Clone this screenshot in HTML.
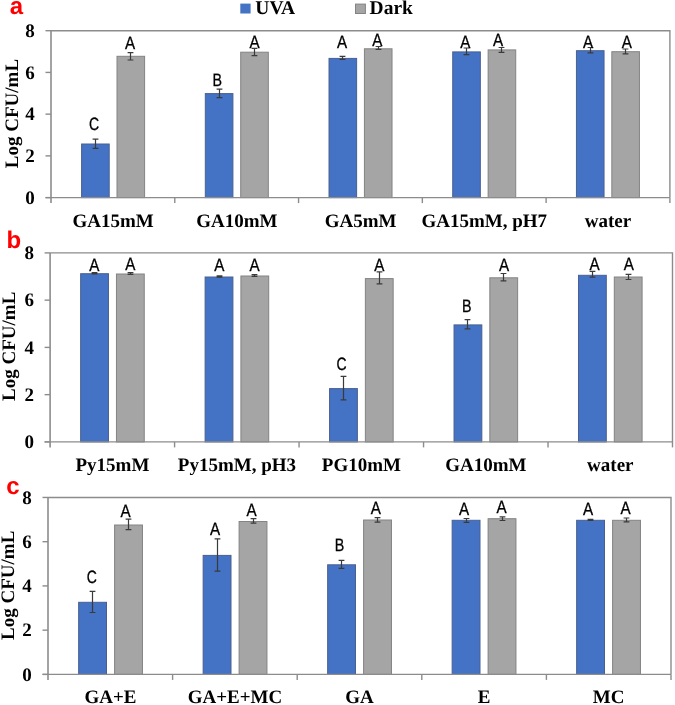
<!DOCTYPE html>
<html><head><meta charset="utf-8"><title>Chart</title>
<style>html,body{margin:0;padding:0;background:#fff;}svg{display:block;will-change:transform;} text{text-rendering:geometricPrecision;}</style>
</head><body>
<svg width="675" height="705" viewBox="0 0 675 705">
<rect x="0" y="0" width="675" height="705" fill="#fff"/>
<rect x="240.3" y="3.6" width="10.3" height="9.9" fill="#4472c4"/>
<text x="255.3" y="14.4" style="font-family:'Liberation Serif',serif;font-weight:bold;font-size:19.5px" fill="#000">UVA</text>
<rect x="355.5" y="4.1" width="9.9" height="9.4" fill="#a5a5a5" stroke="#838383" stroke-width="1"/>
<text x="369.6" y="14.4" style="font-family:'Liberation Serif',serif;font-weight:bold;font-size:19.5px" fill="#000">Dark</text>
<text x="16.5" y="14.2" text-anchor="middle" style="font-family:'Liberation Sans',sans-serif;font-weight:bold;font-size:24px" fill="#f00">a</text>
<text x="0" y="0" transform="translate(17.9,113.5) rotate(-90)" text-anchor="middle" style="font-family:'Liberation Serif',serif;font-weight:bold;font-size:19px" fill="#000">Log CFU/mL</text>
<path d="M51.0 30.7H669.9V197.6" fill="none" stroke="#8c8c8c" stroke-width="1.4"/>
<line x1="45.5" y1="197.60" x2="51.0" y2="197.60" stroke="#8c8c8c" stroke-width="1.4"/>
<text x="34.8" y="203.90" text-anchor="end" style="font-family:'Liberation Serif',serif;font-weight:bold;font-size:19px" fill="#000">0</text>
<line x1="45.5" y1="155.88" x2="51.0" y2="155.88" stroke="#8c8c8c" stroke-width="1.4"/>
<text x="34.8" y="162.18" text-anchor="end" style="font-family:'Liberation Serif',serif;font-weight:bold;font-size:19px" fill="#000">2</text>
<line x1="45.5" y1="114.15" x2="51.0" y2="114.15" stroke="#8c8c8c" stroke-width="1.4"/>
<text x="34.8" y="120.45" text-anchor="end" style="font-family:'Liberation Serif',serif;font-weight:bold;font-size:19px" fill="#000">4</text>
<line x1="45.5" y1="72.42" x2="51.0" y2="72.42" stroke="#8c8c8c" stroke-width="1.4"/>
<text x="34.8" y="78.72" text-anchor="end" style="font-family:'Liberation Serif',serif;font-weight:bold;font-size:19px" fill="#000">6</text>
<line x1="45.5" y1="30.70" x2="51.0" y2="30.70" stroke="#8c8c8c" stroke-width="1.4"/>
<text x="34.8" y="37.00" text-anchor="end" style="font-family:'Liberation Serif',serif;font-weight:bold;font-size:19px" fill="#000">8</text>
<rect x="81.60" y="144.00" width="27.60" height="53.60" fill="#4472c4" stroke="#4a5f90" stroke-width="1.0"/>
<rect x="117.00" y="56.30" width="27.60" height="141.30" fill="#a5a5a5" stroke="#838383" stroke-width="1.0"/>
<path d="M92.60 139.2H98.40M95.50 139.2V148.3M92.60 148.3H98.40" fill="none" stroke="#3a3a3a" stroke-width="1.2"/>
<path d="M127.60 52.6H133.40M130.50 52.6V60.0M127.60 60.0H133.40" fill="none" stroke="#3a3a3a" stroke-width="1.2"/>
<rect x="205.31" y="93.60" width="27.60" height="104.00" fill="#4472c4" stroke="#4a5f90" stroke-width="1.0"/>
<rect x="240.71" y="52.20" width="27.60" height="145.40" fill="#a5a5a5" stroke="#838383" stroke-width="1.0"/>
<path d="M216.60 89.1H222.40M219.50 89.1V97.6M216.60 97.6H222.40" fill="none" stroke="#3a3a3a" stroke-width="1.2"/>
<path d="M251.60 48.3H257.40M254.50 48.3V55.7M251.60 55.7H257.40" fill="none" stroke="#3a3a3a" stroke-width="1.2"/>
<rect x="329.02" y="58.40" width="27.60" height="139.20" fill="#4472c4" stroke="#4a5f90" stroke-width="1.0"/>
<rect x="364.42" y="48.80" width="27.60" height="148.80" fill="#a5a5a5" stroke="#838383" stroke-width="1.0"/>
<path d="M339.60 56.4H345.40M342.50 56.4V59.4M339.60 59.4H345.40" fill="none" stroke="#3a3a3a" stroke-width="1.2"/>
<path d="M375.60 46.5H381.40M378.50 46.5V49.4M375.60 49.4H381.40" fill="none" stroke="#3a3a3a" stroke-width="1.2"/>
<rect x="452.73" y="51.90" width="27.60" height="145.70" fill="#4472c4" stroke="#4a5f90" stroke-width="1.0"/>
<rect x="488.13" y="49.90" width="27.60" height="147.70" fill="#a5a5a5" stroke="#838383" stroke-width="1.0"/>
<path d="M463.60 48.0H469.40M466.50 48.0V54.6M463.60 54.6H469.40" fill="none" stroke="#3a3a3a" stroke-width="1.2"/>
<path d="M498.60 47.5H504.40M501.50 47.5V52.4M498.60 52.4H504.40" fill="none" stroke="#3a3a3a" stroke-width="1.2"/>
<rect x="576.44" y="50.70" width="27.60" height="146.90" fill="#4472c4" stroke="#4a5f90" stroke-width="1.0"/>
<rect x="611.84" y="51.70" width="27.60" height="145.90" fill="#a5a5a5" stroke="#838383" stroke-width="1.0"/>
<path d="M587.60 47.5H593.40M590.50 47.5V52.9M587.60 52.9H593.40" fill="none" stroke="#3a3a3a" stroke-width="1.2"/>
<path d="M622.60 49.0H628.40M625.50 49.0V53.9M622.60 53.9H628.40" fill="none" stroke="#3a3a3a" stroke-width="1.2"/>
<text transform="translate(94.10,130.20) scale(0.78,1)" text-anchor="middle" style="font-family:'Liberation Sans',sans-serif;font-size:17.9px" fill="#000" stroke="#000" stroke-width="0.3">C</text>
<text transform="translate(217.20,85.60) scale(0.8,1)" text-anchor="middle" style="font-family:'Liberation Sans',sans-serif;font-size:17.9px" fill="#000" stroke="#000" stroke-width="0.3">B</text>
<text transform="translate(342.05,47.80) scale(0.85,1)" text-anchor="middle" style="font-family:'Liberation Sans',sans-serif;font-size:17.9px" fill="#000" stroke="#000" stroke-width="0.3">A</text>
<text transform="translate(465.25,47.80) scale(0.85,1)" text-anchor="middle" style="font-family:'Liberation Sans',sans-serif;font-size:17.9px" fill="#000" stroke="#000" stroke-width="0.3">A</text>
<text transform="translate(588.10,47.80) scale(0.85,1)" text-anchor="middle" style="font-family:'Liberation Sans',sans-serif;font-size:17.9px" fill="#000" stroke="#000" stroke-width="0.3">A</text>
<text transform="translate(129.95,48.70) scale(0.85,1)" text-anchor="middle" style="font-family:'Liberation Sans',sans-serif;font-size:17.9px" fill="#000" stroke="#000" stroke-width="0.3">A</text>
<text transform="translate(254.65,47.80) scale(0.85,1)" text-anchor="middle" style="font-family:'Liberation Sans',sans-serif;font-size:17.9px" fill="#000" stroke="#000" stroke-width="0.3">A</text>
<text transform="translate(377.40,45.90) scale(0.85,1)" text-anchor="middle" style="font-family:'Liberation Sans',sans-serif;font-size:17.9px" fill="#000" stroke="#000" stroke-width="0.3">A</text>
<text transform="translate(498.15,46.30) scale(0.85,1)" text-anchor="middle" style="font-family:'Liberation Sans',sans-serif;font-size:17.9px" fill="#000" stroke="#000" stroke-width="0.3">A</text>
<text transform="translate(626.85,47.80) scale(0.85,1)" text-anchor="middle" style="font-family:'Liberation Sans',sans-serif;font-size:17.9px" fill="#000" stroke="#000" stroke-width="0.3">A</text>
<line x1="51.0" y1="30.7" x2="51.0" y2="203.1" stroke="#8c8c8c" stroke-width="1.6"/>
<line x1="45.5" y1="197.6" x2="669.9" y2="197.6" stroke="#8c8c8c" stroke-width="1.4"/>
<line x1="174.78" y1="197.6" x2="174.78" y2="203.1" stroke="#8c8c8c" stroke-width="1.4"/>
<line x1="298.56" y1="197.6" x2="298.56" y2="203.1" stroke="#8c8c8c" stroke-width="1.4"/>
<line x1="422.34" y1="197.6" x2="422.34" y2="203.1" stroke="#8c8c8c" stroke-width="1.4"/>
<line x1="546.12" y1="197.6" x2="546.12" y2="203.1" stroke="#8c8c8c" stroke-width="1.4"/>
<line x1="669.90" y1="197.6" x2="669.90" y2="203.1" stroke="#8c8c8c" stroke-width="1.4"/>
<text x="113.10" y="226.60" text-anchor="middle" style="font-family:'Liberation Serif',serif;font-weight:bold;font-size:19px" fill="#000">GA15mM</text>
<text x="236.81" y="226.60" text-anchor="middle" style="font-family:'Liberation Serif',serif;font-weight:bold;font-size:19px" fill="#000">GA10mM</text>
<text x="360.52" y="226.60" text-anchor="middle" style="font-family:'Liberation Serif',serif;font-weight:bold;font-size:19px" fill="#000">GA5mM</text>
<text x="484.23" y="226.60" text-anchor="middle" style="font-family:'Liberation Serif',serif;font-weight:bold;font-size:19px" fill="#000">GA15mM, pH7</text>
<text x="607.94" y="226.60" text-anchor="middle" style="font-family:'Liberation Serif',serif;font-weight:bold;font-size:19px" fill="#000">water</text>
<text x="13.9" y="247.5" text-anchor="middle" style="font-family:'Liberation Sans',sans-serif;font-weight:bold;font-size:24px" fill="#f00">b</text>
<text x="0" y="0" transform="translate(15.4,346.3) rotate(-90)" text-anchor="middle" style="font-family:'Liberation Serif',serif;font-weight:bold;font-size:19px" fill="#000">Log CFU/mL</text>
<path d="M50.1 252.9H672.5V441.9" fill="none" stroke="#8c8c8c" stroke-width="1.4"/>
<line x1="44.6" y1="441.90" x2="50.1" y2="441.90" stroke="#8c8c8c" stroke-width="1.4"/>
<text x="33.900000000000006" y="448.20" text-anchor="end" style="font-family:'Liberation Serif',serif;font-weight:bold;font-size:19px" fill="#000">0</text>
<line x1="44.6" y1="394.65" x2="50.1" y2="394.65" stroke="#8c8c8c" stroke-width="1.4"/>
<text x="33.900000000000006" y="400.95" text-anchor="end" style="font-family:'Liberation Serif',serif;font-weight:bold;font-size:19px" fill="#000">2</text>
<line x1="44.6" y1="347.40" x2="50.1" y2="347.40" stroke="#8c8c8c" stroke-width="1.4"/>
<text x="33.900000000000006" y="353.70" text-anchor="end" style="font-family:'Liberation Serif',serif;font-weight:bold;font-size:19px" fill="#000">4</text>
<line x1="44.6" y1="300.15" x2="50.1" y2="300.15" stroke="#8c8c8c" stroke-width="1.4"/>
<text x="33.900000000000006" y="306.45" text-anchor="end" style="font-family:'Liberation Serif',serif;font-weight:bold;font-size:19px" fill="#000">6</text>
<line x1="44.6" y1="252.90" x2="50.1" y2="252.90" stroke="#8c8c8c" stroke-width="1.4"/>
<text x="33.900000000000006" y="259.20" text-anchor="end" style="font-family:'Liberation Serif',serif;font-weight:bold;font-size:19px" fill="#000">8</text>
<rect x="80.65" y="273.70" width="27.80" height="168.20" fill="#4472c4" stroke="#4a5f90" stroke-width="1.0"/>
<rect x="116.45" y="274.00" width="27.80" height="167.90" fill="#a5a5a5" stroke="#838383" stroke-width="1.0"/>
<path d="M91.60 272.6H97.40M94.50 272.6V273.8M91.60 273.8H97.40" fill="none" stroke="#3a3a3a" stroke-width="1.2"/>
<path d="M127.60 272.6H133.40M130.50 272.6V274.4M127.60 274.4H133.40" fill="none" stroke="#3a3a3a" stroke-width="1.2"/>
<rect x="205.11" y="277.00" width="27.80" height="164.90" fill="#4472c4" stroke="#4a5f90" stroke-width="1.0"/>
<rect x="240.91" y="276.00" width="27.80" height="165.90" fill="#a5a5a5" stroke="#838383" stroke-width="1.0"/>
<path d="M216.60 275.9H222.40M219.50 275.9V277.1M216.60 277.1H222.40" fill="none" stroke="#3a3a3a" stroke-width="1.2"/>
<path d="M251.60 274.6H257.40M254.50 274.6V276.4M251.60 276.4H257.40" fill="none" stroke="#3a3a3a" stroke-width="1.2"/>
<rect x="329.57" y="388.60" width="27.80" height="53.30" fill="#4472c4" stroke="#4a5f90" stroke-width="1.0"/>
<rect x="365.37" y="278.60" width="27.80" height="163.30" fill="#a5a5a5" stroke="#838383" stroke-width="1.0"/>
<path d="M340.60 376.3H346.40M343.50 376.3V399.9M340.60 399.9H346.40" fill="none" stroke="#3a3a3a" stroke-width="1.2"/>
<path d="M376.60 271.9H382.40M379.50 271.9V283.8M376.60 283.8H382.40" fill="none" stroke="#3a3a3a" stroke-width="1.2"/>
<rect x="454.03" y="324.90" width="27.80" height="117.00" fill="#4472c4" stroke="#4a5f90" stroke-width="1.0"/>
<rect x="489.83" y="277.80" width="27.80" height="164.10" fill="#a5a5a5" stroke="#838383" stroke-width="1.0"/>
<path d="M464.60 319.6H470.40M467.50 319.6V328.9M464.60 328.9H470.40" fill="none" stroke="#3a3a3a" stroke-width="1.2"/>
<path d="M500.60 273.5H506.40M503.50 273.5V280.9M500.60 280.9H506.40" fill="none" stroke="#3a3a3a" stroke-width="1.2"/>
<rect x="578.49" y="275.30" width="27.80" height="166.60" fill="#4472c4" stroke="#4a5f90" stroke-width="1.0"/>
<rect x="614.29" y="277.00" width="27.80" height="164.90" fill="#a5a5a5" stroke="#838383" stroke-width="1.0"/>
<path d="M589.60 271.4H595.40M592.50 271.4V277.1M589.60 277.1H595.40" fill="none" stroke="#3a3a3a" stroke-width="1.2"/>
<path d="M625.60 274.3H631.40M628.50 274.3V279.5M625.60 279.5H631.40" fill="none" stroke="#3a3a3a" stroke-width="1.2"/>
<text transform="translate(94.35,270.90) scale(0.85,1)" text-anchor="middle" style="font-family:'Liberation Sans',sans-serif;font-size:17.9px" fill="#000" stroke="#000" stroke-width="0.3">A</text>
<text transform="translate(219.20,270.90) scale(0.85,1)" text-anchor="middle" style="font-family:'Liberation Sans',sans-serif;font-size:17.9px" fill="#000" stroke="#000" stroke-width="0.3">A</text>
<text transform="translate(341.55,370.40) scale(0.78,1)" text-anchor="middle" style="font-family:'Liberation Sans',sans-serif;font-size:17.9px" fill="#000" stroke="#000" stroke-width="0.3">C</text>
<text transform="translate(466.80,311.60) scale(0.8,1)" text-anchor="middle" style="font-family:'Liberation Sans',sans-serif;font-size:17.9px" fill="#000" stroke="#000" stroke-width="0.3">B</text>
<text transform="translate(594.50,270.00) scale(0.85,1)" text-anchor="middle" style="font-family:'Liberation Sans',sans-serif;font-size:17.9px" fill="#000" stroke="#000" stroke-width="0.3">A</text>
<text transform="translate(130.25,270.40) scale(0.85,1)" text-anchor="middle" style="font-family:'Liberation Sans',sans-serif;font-size:17.9px" fill="#000" stroke="#000" stroke-width="0.3">A</text>
<text transform="translate(254.50,270.90) scale(0.85,1)" text-anchor="middle" style="font-family:'Liberation Sans',sans-serif;font-size:17.9px" fill="#000" stroke="#000" stroke-width="0.3">A</text>
<text transform="translate(379.30,270.90) scale(0.85,1)" text-anchor="middle" style="font-family:'Liberation Sans',sans-serif;font-size:17.9px" fill="#000" stroke="#000" stroke-width="0.3">A</text>
<text transform="translate(504.10,270.90) scale(0.85,1)" text-anchor="middle" style="font-family:'Liberation Sans',sans-serif;font-size:17.9px" fill="#000" stroke="#000" stroke-width="0.3">A</text>
<text transform="translate(628.90,270.00) scale(0.85,1)" text-anchor="middle" style="font-family:'Liberation Sans',sans-serif;font-size:17.9px" fill="#000" stroke="#000" stroke-width="0.3">A</text>
<line x1="50.1" y1="252.9" x2="50.1" y2="447.4" stroke="#8c8c8c" stroke-width="1.6"/>
<line x1="44.6" y1="441.9" x2="672.5" y2="441.9" stroke="#8c8c8c" stroke-width="1.4"/>
<line x1="174.58" y1="441.9" x2="174.58" y2="447.4" stroke="#8c8c8c" stroke-width="1.4"/>
<line x1="299.06" y1="441.9" x2="299.06" y2="447.4" stroke="#8c8c8c" stroke-width="1.4"/>
<line x1="423.54" y1="441.9" x2="423.54" y2="447.4" stroke="#8c8c8c" stroke-width="1.4"/>
<line x1="548.02" y1="441.9" x2="548.02" y2="447.4" stroke="#8c8c8c" stroke-width="1.4"/>
<line x1="672.50" y1="441.9" x2="672.50" y2="447.4" stroke="#8c8c8c" stroke-width="1.4"/>
<text x="112.45" y="470.90" text-anchor="middle" style="font-family:'Liberation Serif',serif;font-weight:bold;font-size:19px" fill="#000">Py15mM</text>
<text x="236.91" y="470.90" text-anchor="middle" style="font-family:'Liberation Serif',serif;font-weight:bold;font-size:19px" fill="#000">Py15mM, pH3</text>
<text x="361.37" y="470.90" text-anchor="middle" style="font-family:'Liberation Serif',serif;font-weight:bold;font-size:19px" fill="#000">PG10mM</text>
<text x="485.83" y="470.90" text-anchor="middle" style="font-family:'Liberation Serif',serif;font-weight:bold;font-size:19px" fill="#000">GA10mM</text>
<text x="610.29" y="470.90" text-anchor="middle" style="font-family:'Liberation Serif',serif;font-weight:bold;font-size:19px" fill="#000">water</text>
<text x="13.0" y="493.7" text-anchor="middle" style="font-family:'Liberation Sans',sans-serif;font-weight:bold;font-size:24px" fill="#f00">c</text>
<text x="0" y="0" transform="translate(14.4,585.3) rotate(-90)" text-anchor="middle" style="font-family:'Liberation Serif',serif;font-weight:bold;font-size:19px" fill="#000">Log CFU/mL</text>
<path d="M48.0 497.45H671.0V674.4" fill="none" stroke="#8c8c8c" stroke-width="1.4"/>
<line x1="42.5" y1="674.40" x2="48.0" y2="674.40" stroke="#8c8c8c" stroke-width="1.4"/>
<text x="31.8" y="680.70" text-anchor="end" style="font-family:'Liberation Serif',serif;font-weight:bold;font-size:19px" fill="#000">0</text>
<line x1="42.5" y1="630.16" x2="48.0" y2="630.16" stroke="#8c8c8c" stroke-width="1.4"/>
<text x="31.8" y="636.46" text-anchor="end" style="font-family:'Liberation Serif',serif;font-weight:bold;font-size:19px" fill="#000">2</text>
<line x1="42.5" y1="585.92" x2="48.0" y2="585.92" stroke="#8c8c8c" stroke-width="1.4"/>
<text x="31.8" y="592.22" text-anchor="end" style="font-family:'Liberation Serif',serif;font-weight:bold;font-size:19px" fill="#000">4</text>
<line x1="42.5" y1="541.69" x2="48.0" y2="541.69" stroke="#8c8c8c" stroke-width="1.4"/>
<text x="31.8" y="547.99" text-anchor="end" style="font-family:'Liberation Serif',serif;font-weight:bold;font-size:19px" fill="#000">6</text>
<line x1="42.5" y1="497.45" x2="48.0" y2="497.45" stroke="#8c8c8c" stroke-width="1.4"/>
<text x="31.8" y="503.75" text-anchor="end" style="font-family:'Liberation Serif',serif;font-weight:bold;font-size:19px" fill="#000">8</text>
<rect x="78.65" y="602.30" width="27.85" height="72.10" fill="#4472c4" stroke="#4a5f90" stroke-width="1.0"/>
<rect x="114.60" y="525.00" width="27.85" height="149.40" fill="#a5a5a5" stroke="#838383" stroke-width="1.0"/>
<path d="M89.60 591.3H95.40M92.50 591.3V612.5M89.60 612.5H95.40" fill="none" stroke="#3a3a3a" stroke-width="1.2"/>
<path d="M125.60 519.1H131.40M128.50 519.1V529.6M125.60 529.6H131.40" fill="none" stroke="#3a3a3a" stroke-width="1.2"/>
<rect x="203.15" y="555.40" width="27.85" height="119.00" fill="#4472c4" stroke="#4a5f90" stroke-width="1.0"/>
<rect x="239.10" y="521.50" width="27.85" height="152.90" fill="#a5a5a5" stroke="#838383" stroke-width="1.0"/>
<path d="M214.60 538.8H220.40M217.50 538.8V571.1M214.60 571.1H220.40" fill="none" stroke="#3a3a3a" stroke-width="1.2"/>
<path d="M250.60 518.6H256.40M253.50 518.6V523.2M250.60 523.2H256.40" fill="none" stroke="#3a3a3a" stroke-width="1.2"/>
<rect x="327.65" y="564.80" width="27.85" height="109.60" fill="#4472c4" stroke="#4a5f90" stroke-width="1.0"/>
<rect x="363.60" y="520.00" width="27.85" height="154.40" fill="#a5a5a5" stroke="#838383" stroke-width="1.0"/>
<path d="M338.60 560.4H344.40M341.50 560.4V568.3M338.60 568.3H344.40" fill="none" stroke="#3a3a3a" stroke-width="1.2"/>
<path d="M374.60 517.6H380.40M377.50 517.6V522.2M374.60 522.2H380.40" fill="none" stroke="#3a3a3a" stroke-width="1.2"/>
<rect x="452.15" y="520.30" width="27.85" height="154.10" fill="#4472c4" stroke="#4a5f90" stroke-width="1.0"/>
<rect x="488.10" y="518.70" width="27.85" height="155.70" fill="#a5a5a5" stroke="#838383" stroke-width="1.0"/>
<path d="M463.60 518.5H469.40M466.50 518.5V522.3M463.60 522.3H469.40" fill="none" stroke="#3a3a3a" stroke-width="1.2"/>
<path d="M499.60 516.9H505.40M502.50 516.9V520.5M499.60 520.5H505.40" fill="none" stroke="#3a3a3a" stroke-width="1.2"/>
<rect x="576.65" y="520.30" width="27.85" height="154.10" fill="#4472c4" stroke="#4a5f90" stroke-width="1.0"/>
<rect x="612.60" y="520.30" width="27.85" height="154.10" fill="#a5a5a5" stroke="#838383" stroke-width="1.0"/>
<path d="M587.60 519.3H593.40M590.50 519.3V520.3M587.60 520.3H593.40" fill="none" stroke="#3a3a3a" stroke-width="1.2"/>
<path d="M623.60 518.0H629.40M626.50 518.0V521.8M623.60 521.8H629.40" fill="none" stroke="#3a3a3a" stroke-width="1.2"/>
<text transform="translate(91.80,582.70) scale(0.78,1)" text-anchor="middle" style="font-family:'Liberation Sans',sans-serif;font-size:17.9px" fill="#000" stroke="#000" stroke-width="0.3">C</text>
<text transform="translate(215.10,534.80) scale(0.85,1)" text-anchor="middle" style="font-family:'Liberation Sans',sans-serif;font-size:17.9px" fill="#000" stroke="#000" stroke-width="0.3">A</text>
<text transform="translate(339.65,551.00) scale(0.8,1)" text-anchor="middle" style="font-family:'Liberation Sans',sans-serif;font-size:17.9px" fill="#000" stroke="#000" stroke-width="0.3">B</text>
<text transform="translate(464.15,514.70) scale(0.85,1)" text-anchor="middle" style="font-family:'Liberation Sans',sans-serif;font-size:17.9px" fill="#000" stroke="#000" stroke-width="0.3">A</text>
<text transform="translate(587.95,514.70) scale(0.85,1)" text-anchor="middle" style="font-family:'Liberation Sans',sans-serif;font-size:17.9px" fill="#000" stroke="#000" stroke-width="0.3">A</text>
<text transform="translate(125.50,516.90) scale(0.85,1)" text-anchor="middle" style="font-family:'Liberation Sans',sans-serif;font-size:17.9px" fill="#000" stroke="#000" stroke-width="0.3">A</text>
<text transform="translate(251.45,515.50) scale(0.85,1)" text-anchor="middle" style="font-family:'Liberation Sans',sans-serif;font-size:17.9px" fill="#000" stroke="#000" stroke-width="0.3">A</text>
<text transform="translate(375.70,513.60) scale(0.85,1)" text-anchor="middle" style="font-family:'Liberation Sans',sans-serif;font-size:17.9px" fill="#000" stroke="#000" stroke-width="0.3">A</text>
<text transform="translate(501.65,513.40) scale(0.85,1)" text-anchor="middle" style="font-family:'Liberation Sans',sans-serif;font-size:17.9px" fill="#000" stroke="#000" stroke-width="0.3">A</text>
<text transform="translate(625.45,514.20) scale(0.85,1)" text-anchor="middle" style="font-family:'Liberation Sans',sans-serif;font-size:17.9px" fill="#000" stroke="#000" stroke-width="0.3">A</text>
<line x1="48.0" y1="497.45" x2="48.0" y2="679.9" stroke="#8c8c8c" stroke-width="1.6"/>
<line x1="42.5" y1="674.4" x2="671.0" y2="674.4" stroke="#8c8c8c" stroke-width="1.4"/>
<line x1="172.60" y1="674.4" x2="172.60" y2="679.9" stroke="#8c8c8c" stroke-width="1.4"/>
<line x1="297.20" y1="674.4" x2="297.20" y2="679.9" stroke="#8c8c8c" stroke-width="1.4"/>
<line x1="421.80" y1="674.4" x2="421.80" y2="679.9" stroke="#8c8c8c" stroke-width="1.4"/>
<line x1="546.40" y1="674.4" x2="546.40" y2="679.9" stroke="#8c8c8c" stroke-width="1.4"/>
<line x1="671.00" y1="674.4" x2="671.00" y2="679.9" stroke="#8c8c8c" stroke-width="1.4"/>
<text x="110.55" y="703.40" text-anchor="middle" style="font-family:'Liberation Serif',serif;font-weight:bold;font-size:19px" fill="#000">GA+E</text>
<text x="235.05" y="703.40" text-anchor="middle" style="font-family:'Liberation Serif',serif;font-weight:bold;font-size:19px" fill="#000">GA+E+MC</text>
<text x="359.55" y="703.40" text-anchor="middle" style="font-family:'Liberation Serif',serif;font-weight:bold;font-size:19px" fill="#000">GA</text>
<text x="484.05" y="703.40" text-anchor="middle" style="font-family:'Liberation Serif',serif;font-weight:bold;font-size:19px" fill="#000">E</text>
<text x="608.55" y="703.40" text-anchor="middle" style="font-family:'Liberation Serif',serif;font-weight:bold;font-size:19px" fill="#000">MC</text>
</svg>
</body></html>
